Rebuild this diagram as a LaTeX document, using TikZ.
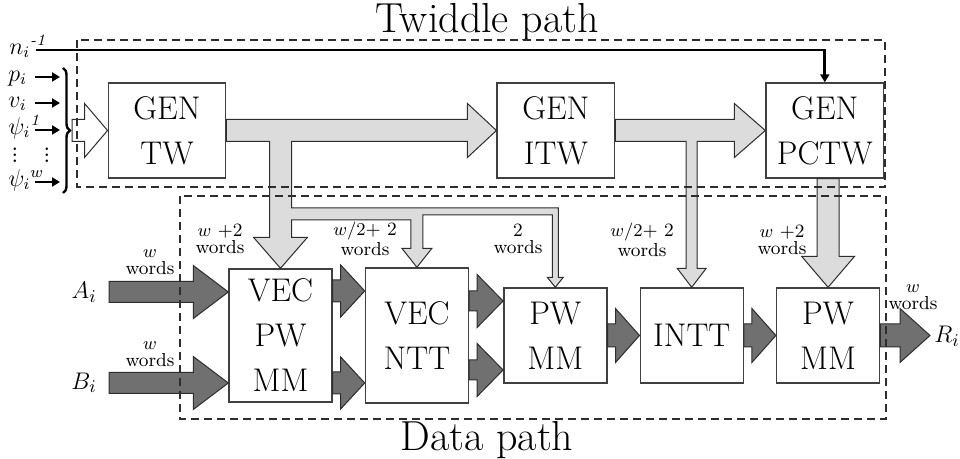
\documentclass[tikz,border=0pt]{standalone}
\usepackage{tikz}
\usepackage{amsmath}
\usetikzlibrary{positioning,calc,arrows.meta,decorations.pathreplacing}
\definecolor{lightfill}{RGB}{220,220,220}
\definecolor{darkfill}{RGB}{112,112,112}
\definecolor{edge}{RGB}{45,45,45}
\tikzstyle{block} = [rectangle, draw=black!75, fill=white, line width=0.7pt, align=center,
inner sep=0pt, font=\fontsize{16.4}{22.5}\selectfont]
\tikzstyle{genblock} = [block, minimum width=58.75pt, minimum height=47.5pt]
\tikzstyle{mulblock} = [block, minimum width=51.5pt, minimum height=47.5pt]
\tikzstyle{line} = [draw, line width=1.4pt, -{Triangle[length=4pt,width=4.5pt]}]
\tikzstyle{inlab} = [anchor=west, inner sep=0pt, text width=13pt, align=left, text height=1ex,
text depth=0pt, font=\fontsize{11.5}{13}\selectfont]
\tikzstyle{dotlab} = [inner sep=0pt, align=center, font=\fontsize{13}{3}\selectfont]
\tikzstyle{wordlab} = [align=center, inner sep=0pt, font=\fontsize{9.4}{8.5}\selectfont]
\tikzstyle{datalab} = [font=\fontsize{12.7}{15}\selectfont]
\tikzstyle{title} = [anchor=base, font=\fontsize{21}{25}\selectfont]
\tikzstyle{larr} = [draw=edge, line width=0.5pt, fill=lightfill]
\tikzstyle{darr} = [draw=edge, line width=0.5pt, fill=darkfill]
\tikzstyle{oarr} = [draw=edge, line width=0.5pt, fill=white]
\tikzstyle{dashbox} = [draw=edge, line width=0.75pt, dash pattern=on 4pt off 2.5pt]
\newcommand{\fatright}[6]{%
  \draw[#1] let \p1=(#2), \p2=(#3) in
    (\x1,\y1+#4) -- (\x2-#6,\y1+#4) -- (\x2-#6,\y1+#5) -- (\x2,\y1)
    -- (\x2-#6,\y1-#5) -- (\x2-#6,\y1-#4) -- (\x1,\y1-#4) -- cycle;}
\newcommand{\fatdown}[6]{%
  \draw[#1] let \p1=(#2), \p2=(#3) in
    (\x2-#4,\y1) -- (\x2-#4,\y2+#6) -- (\x2-#5,\y2+#6) -- (\x2,\y2)
    -- (\x2+#5,\y2+#6) -- (\x2+#4,\y2+#6) -- (\x2+#4,\y1) -- cycle;}
\begin{document}
\begin{tikzpicture}[x=0.5pt, y=-0.5pt]
\useasboundingbox (0,0) rectangle (960,459);
\node [title] (twtitle) at (487,33) {Twiddle path};
\node [title] (dtitle) at (487,451) {Data path};

\node [genblock] (tw) at (167,130.5) {GEN\\TW};
\node [genblock, right=135pt of tw] (itw) {GEN\\ITW};
\node [genblock, right=75pt of itw] (pctw) {GEN\\PCTW};

\node [block, minimum width=51.5pt, minimum height=66.5pt] (vpw) at (280.5,335.5) {VEC\\PW\\MM};
\node [block, minimum width=51.5pt, minimum height=67.5pt, right=16pt of vpw] (vntt) {VEC\\NTT};
\node [mulblock, right=17pt of vntt] (pw1) {PW\\MM};
\node [mulblock, right=16pt of pw1] (intt) {INTT};
\node [mulblock, right=16pt of intt] (pw2) {PW\\MM};

\node [inlab] (ni) at (9,50) {$n_i{}^{\textit{-1}}$};
\node [inlab] (pi) at (8,77) {$p_i$};
\node [inlab] (vi) at (8,103) {$v_i$};
\node [inlab] (psa) at (8,130) {$\psi_i{}^{\mathit{1}}$};
\node [inlab] (psw) at (8,182) {$\psi_i{}^{w}$};
\node [dotlab] (vdl) at (15,155) {.\\.\\.};
\node [dotlab] (vdr) at (47,155) {.\\.\\.};
\coordinate (brin) at (60,130);
\coordinate (brtop) at (63,68);
\coordinate (brbot) at (63,193);
\coordinate (brtip) at (72,130.5);

\node [datalab, anchor=east, inner xsep=6pt] (ai) at (109,292) {$A_i$};
\node [datalab, anchor=east, inner xsep=6pt] (bi) at (109,383) {$B_i$};
\node [datalab, anchor=west, inner xsep=2pt] (ri) at (930,336) {$R_i$};

\node [wordlab] (wa) at (150,262) {$w$\\words};
\node [wordlab] (wb) at (150,354) {$w$\\words};
\node [wordlab] (wr) at (913,297) {$w$\\words};
\node [wordlab] (wvpw) at (220,239) {$w$ +2\\words};
\node [wordlab] (wvntt) at (365,239) {$w/2$+ 2\\words};
\node [wordlab] (wpw1) at (518,239) {2\\words};
\node [wordlab] (wintt) at (642,240) {$w/2$+ 2\\words};
\node [wordlab] (wpw2) at (782,240) {$w$ +2\\words};

\path [line] (ni.east) -| (pctw.north);
\path [line] (pi.east) -- (pi.east -| brin);
\path [line] (vi.east) -- (vi.east -| brin);
\path [line] (psa.east) -- (psa.east -| brin);
\path [line] (psw.east) -- (psw.east -| brin);
\draw [line width=1.2pt, decorate, decoration={brace, amplitude=3.5pt}] (brtop) -- (brbot);
\fatright{oarr}{brtip}{tw.west}{5.5pt}{13.5pt}{11.5pt}

\draw [larr] let \p1=(tw.east), \p2=(itw.west), \p3=(vpw.north), \p4=(vntt.north), \p5=(pw1.north) in
  (\x1,\y1+5.5pt) -- (\x2-14.5pt,\y1+5.5pt) -- (\x2-14.5pt,\y1+13.5pt) -- (\x2,\y2)
  -- (\x2-14.5pt,\y1-13.5pt) -- (\x2-14.5pt,\y1-5.5pt) -- (\x3+5.5pt,\y1-5.5pt)
  -- (\x3+5.5pt,\y1-38.75pt) -- (\x5+1.5pt,\y1-38.75pt) -- (\x5+1.5pt,\y5+5pt)
  -- (\x5+4pt,\y5+5pt) -- (\x5,\y5) -- (\x5-4pt,\y5+5pt) -- (\x5-1.5pt,\y5+5pt)
  -- (\x5-1.5pt,\y1-42.25pt) -- (\x4+3pt,\y1-42.25pt) -- (\x4+3pt,\y4+9.5pt)
  -- (\x4+7.5pt,\y4+9.5pt) -- (\x4,\y4) -- (\x4-7.5pt,\y4+9.5pt) -- (\x4-3pt,\y4+9.5pt)
  -- (\x4-3pt,\y1-44.75pt) -- (\x3+5.5pt,\y1-44.75pt) -- (\x3+5.5pt,\y3+15.5pt)
  -- (\x3+13.5pt,\y3+15.5pt) -- (\x3,\y3) -- (\x3-13.5pt,\y3+15.5pt) -- (\x3-5.5pt,\y3+15.5pt)
  -- (\x3-5.5pt,\y1-5.5pt) -- (\x1,\y1-5.5pt) -- cycle;
\draw [larr] let \p1=(itw.east), \p2=(pctw.west), \p3=(intt.north) in
  (\x1,\y1+5.5pt) -- (\x2-15.5pt,\y1+5.5pt) -- (\x2-15.5pt,\y1+13.5pt) -- (\x2,\y2)
  -- (\x2-15.5pt,\y1-13.5pt) -- (\x2-15.5pt,\y1-5.5pt) -- (\x3+2.75pt,\y1-5.5pt)
  -- (\x3+2.75pt,\y3+9.5pt) -- (\x3+7.25pt,\y3+9.5pt) -- (\x3,\y3) -- (\x3-7.25pt,\y3+9.5pt)
  -- (\x3-2.75pt,\y3+9.5pt) -- (\x3-2.75pt,\y1-5.5pt) -- (\x1,\y1-5.5pt) -- cycle;
\fatdown{larr}{pctw.south}{pw2.north}{5.5pt}{13.25pt}{15.5pt}

\fatright{darr}{ai.east}{vpw.west}{5.25pt}{13.25pt}{17.5pt}
\fatright{darr}{bi.east}{vpw.west}{5.25pt}{13.25pt}{17.5pt}
\fatright{darr}{$(vpw.east)+(0,-44.5)$}{vntt.west}{5.5pt}{13pt}{12pt}
\fatright{darr}{$(vpw.east)+(0,47.5)$}{vntt.west}{5.5pt}{13pt}{12pt}
\fatright{darr}{$(vntt.east)+(0,-34.5)$}{pw1.west}{5pt}{13.25pt}{13pt}
\fatright{darr}{$(vntt.east)+(0,34.5)$}{pw1.west}{5pt}{13.25pt}{13pt}
\fatright{darr}{pw1.east}{intt.west}{5.75pt}{13.5pt}{12pt}
\fatright{darr}{intt.east}{pw2.west}{5.75pt}{13.5pt}{12pt}
\fatright{darr}{pw2.east}{ri.west}{5.75pt}{13.5pt}{15pt}

\draw [dashbox] (77,40) rectangle (885,187);
\draw [dashbox] (180,196) rectangle (886,419);
\end{tikzpicture}
\end{document}
